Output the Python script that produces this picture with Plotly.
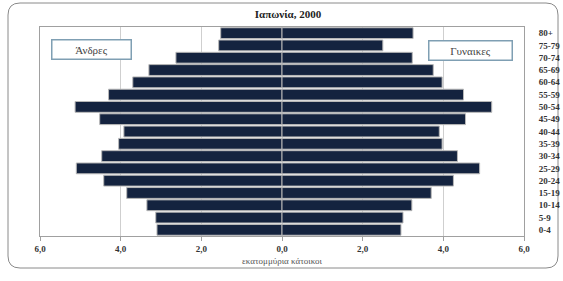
import plotly.graph_objects as go

ages = ["0-4", "5-9", "10-14", "15-19", "20-24", "25-29", "30-34", "35-39", "40-44",
        "45-49", "50-54", "55-59", "60-64", "65-69", "70-74", "75-79", "80+"]
men = [3.10, 3.13, 3.35, 3.85, 4.42, 5.10, 4.47, 4.05, 3.92,
       4.52, 5.13, 4.30, 3.70, 3.30, 2.63, 1.57, 1.52]
women = [2.95, 3.00, 3.22, 3.70, 4.25, 4.90, 4.35, 3.97, 3.90,
         4.55, 5.20, 4.50, 3.97, 3.75, 3.23, 2.50, 3.25]
tick_vals = [-6, -4, -2, 0, 2, 4, 6]
tick_text = ["6,0", "4,0", "2,0", "0,0", "2,0", "4,0", "6,0"]

BAR = "#14233f"
SERIF = "Liberation Serif, DejaVu Serif, serif"

fig = go.Figure()
fig.add_trace(go.Bar(y=ages, x=[-v for v in men], orientation="h", name="Άνδρες",
                     marker=dict(color=BAR, line=dict(color="#b8b8b8", width=1)),
                     hoverinfo="skip"))
fig.add_trace(go.Bar(y=ages, x=women, orientation="h", name="Γυναικες",
                     marker=dict(color=BAR, line=dict(color="#b8b8b8", width=1)),
                     hoverinfo="skip"))

L, R, T, B = 40, 524, 27, 236
W, H = 563, 281
pw, ph = R - L, B - T


def px(x):
    return (x - L) / pw


def py(y):
    return (B - y) / ph


# rounded outer frame
x0, y0, x1, y1, r = 8, 3, 558, 268, 12
path = (f"M {px(x0 + r)},{py(y0)} L {px(x1 - r)},{py(y0)} Q {px(x1)},{py(y0)} {px(x1)},{py(y0 + r)} "
        f"L {px(x1)},{py(y1 - r)} Q {px(x1)},{py(y1)} {px(x1 - r)},{py(y1)} "
        f"L {px(x0 + r)},{py(y1)} Q {px(x0)},{py(y1)} {px(x0)},{py(y1 - r)} "
        f"L {px(x0)},{py(y0 + r)} Q {px(x0)},{py(y0)} {px(x0 + r)},{py(y0)} Z")

fig.update_layout(
    width=W, height=H,
    margin=dict(l=L, r=W - R, t=T, b=H - B, autoexpand=False),
    paper_bgcolor="white", plot_bgcolor="white",
    barmode="overlay", bargap=0.12, showlegend=False,
    title=dict(text="<b>Ιαπωνία, 2000</b>", x=288 / W, xanchor="center", y=1 - 14 / H, yanchor="middle",
               font=dict(family=SERIF, size=11, color="#222222")),
    xaxis=dict(range=[-6, 6], tickvals=tick_vals, ticktext=tick_text,
               tickfont=dict(family=SERIF, size=9, color="#333333", weight="bold"),
               showgrid=True, gridcolor="#cfcfcf", gridwidth=1, zeroline=False,
               showline=True, linecolor="#a0a0a0", mirror=True,
               ticks="outside", ticklen=4, tickcolor="#a0a0a0",
               title=dict(text="εκατομμύρια κάτοικοι", font=dict(family=SERIF, size=9, color="#555555"),
                          standoff=4)),
    yaxis=dict(side="right", categoryorder="array", categoryarray=ages,
               range=[-0.5, 16.5],
               tickfont=dict(family=SERIF, size=9, color="#333333", weight="bold"),
               ticks="", ticklabelstandoff=12, showgrid=False,
               showline=True, linecolor="#a0a0a0", mirror=True),
    shapes=[dict(type="path", xref="paper", yref="paper", path=path,
                 line=dict(color="#8a8a8a", width=1), layer="below")],
    annotations=[
        dict(text="Άνδρες", xref="paper", yref="paper", x=px(91.5), y=py(49),
             xanchor="center", yanchor="middle", showarrow=False,
             font=dict(family=SERIF, size=11, color="#444444"), bgcolor="white",
             bordercolor="#7f9fb3", borderwidth=1.5, width=76, height=16),
        dict(text="Γυναικες", xref="paper", yref="paper", x=px(470), y=py(50),
             xanchor="center", yanchor="middle", showarrow=False,
             font=dict(family=SERIF, size=11, color="#444444"), bgcolor="white",
             bordercolor="#7f9fb3", borderwidth=1.5, width=80, height=16),
    ],
)

fig.write_html("out.html", config={"displayModeBar": False},
               post_script="document.body.style.margin='0';document.body.style.overflow='hidden';")
